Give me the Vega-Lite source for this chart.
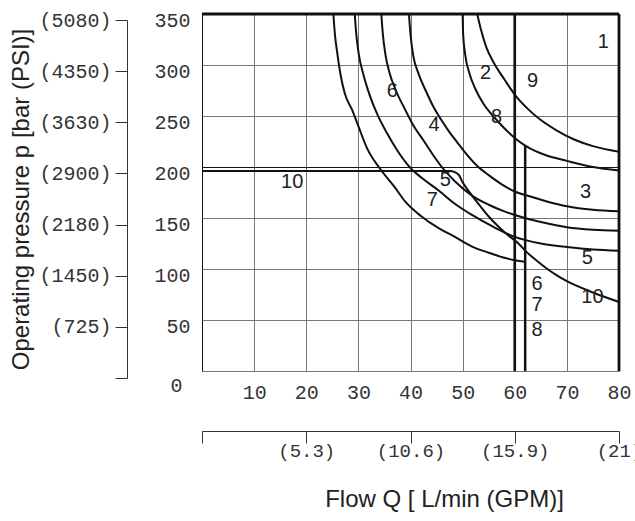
{
  "$schema": "https://vega.github.io/schema/vega-lite/v6.json",
  "width": 417,
  "height": 357,
  "autosize": {"type": "none"},
  "padding": {"left": 202, "top": 14, "right": 16, "bottom": 150},
  "background": "white",
  "config": {"view": {"stroke": "#111", "strokeWidth": 1}},
  "datasets": {
    "curves": [
      {"s": "A", "Q": 25.2, "P": 350}, {"s": "A", "Q": 25.5, "P": 330}, {"s": "A", "Q": 26, "P": 310}, {"s": "A", "Q": 26.6, "P": 290}, {"s": "A", "Q": 27.4, "P": 272}, {"s": "A", "Q": 28.8, "P": 256}, {"s": "A", "Q": 30, "P": 240}, {"s": "A", "Q": 31.7, "P": 218}, {"s": "A", "Q": 34.2, "P": 198}, {"s": "A", "Q": 37, "P": 180}, {"s": "A", "Q": 39, "P": 166}, {"s": "A", "Q": 42, "P": 152}, {"s": "A", "Q": 45.4, "P": 140}, {"s": "A", "Q": 48, "P": 133}, {"s": "A", "Q": 51.8, "P": 122}, {"s": "A", "Q": 55, "P": 116}, {"s": "A", "Q": 58, "P": 111}, {"s": "A", "Q": 60, "P": 108.5}, {"s": "A", "Q": 62, "P": 107},
      {"s": "B", "Q": 29.3, "P": 350}, {"s": "B", "Q": 29.6, "P": 330}, {"s": "B", "Q": 30.1, "P": 310}, {"s": "B", "Q": 31, "P": 290}, {"s": "B", "Q": 32.2, "P": 270}, {"s": "B", "Q": 33.6, "P": 252}, {"s": "B", "Q": 35.5, "P": 233}, {"s": "B", "Q": 37.5, "P": 216}, {"s": "B", "Q": 40, "P": 199}, {"s": "B", "Q": 42.5, "P": 188}, {"s": "B", "Q": 45.4, "P": 177}, {"s": "B", "Q": 48.5, "P": 164}, {"s": "B", "Q": 51.8, "P": 153}, {"s": "B", "Q": 56, "P": 141}, {"s": "B", "Q": 60, "P": 131.5}, {"s": "B", "Q": 65, "P": 125}, {"s": "B", "Q": 70, "P": 121.5}, {"s": "B", "Q": 75, "P": 119}, {"s": "B", "Q": 80, "P": 117.8},
      {"s": "C", "Q": 34.4, "P": 350}, {"s": "C", "Q": 34.7, "P": 330}, {"s": "C", "Q": 35.2, "P": 310}, {"s": "C", "Q": 36, "P": 292}, {"s": "C", "Q": 37.2, "P": 275}, {"s": "C", "Q": 39, "P": 256}, {"s": "C", "Q": 40.3, "P": 243}, {"s": "C", "Q": 42.5, "P": 226}, {"s": "C", "Q": 44.3, "P": 212}, {"s": "C", "Q": 46, "P": 200}, {"s": "C", "Q": 48.5, "P": 186}, {"s": "C", "Q": 51.8, "P": 172}, {"s": "C", "Q": 55, "P": 163}, {"s": "C", "Q": 58, "P": 156.5}, {"s": "C", "Q": 60, "P": 153}, {"s": "C", "Q": 65, "P": 146}, {"s": "C", "Q": 70, "P": 141}, {"s": "C", "Q": 75, "P": 138.5}, {"s": "C", "Q": 80, "P": 137.4},
      {"s": "D", "Q": 39.7, "P": 350}, {"s": "D", "Q": 40, "P": 330}, {"s": "D", "Q": 40.5, "P": 310}, {"s": "D", "Q": 41.5, "P": 292}, {"s": "D", "Q": 43, "P": 274}, {"s": "D", "Q": 44.5, "P": 258}, {"s": "D", "Q": 45.8, "P": 247}, {"s": "D", "Q": 47.5, "P": 234}, {"s": "D", "Q": 49, "P": 224}, {"s": "D", "Q": 50.5, "P": 214}, {"s": "D", "Q": 52.8, "P": 201}, {"s": "D", "Q": 55, "P": 192}, {"s": "D", "Q": 57.5, "P": 183}, {"s": "D", "Q": 60, "P": 176}, {"s": "D", "Q": 63, "P": 171}, {"s": "D", "Q": 66, "P": 166.5}, {"s": "D", "Q": 70, "P": 161.5}, {"s": "D", "Q": 75, "P": 158}, {"s": "D", "Q": 80, "P": 156.5},
      {"s": "E", "Q": 50, "P": 350}, {"s": "E", "Q": 50.1, "P": 330}, {"s": "E", "Q": 50.5, "P": 310}, {"s": "E", "Q": 51.3, "P": 292}, {"s": "E", "Q": 52.5, "P": 276}, {"s": "E", "Q": 54, "P": 262}, {"s": "E", "Q": 56, "P": 249}, {"s": "E", "Q": 58, "P": 238}, {"s": "E", "Q": 60, "P": 228.5}, {"s": "E", "Q": 62, "P": 221}, {"s": "E", "Q": 64, "P": 215.5}, {"s": "E", "Q": 66, "P": 211.5}, {"s": "E", "Q": 70, "P": 206}, {"s": "E", "Q": 75, "P": 200}, {"s": "E", "Q": 80, "P": 196.5},
      {"s": "F", "Q": 52.8, "P": 350}, {"s": "F", "Q": 53.5, "P": 335}, {"s": "F", "Q": 54.5, "P": 318}, {"s": "F", "Q": 56, "P": 302}, {"s": "F", "Q": 58, "P": 286}, {"s": "F", "Q": 60, "P": 271}, {"s": "F", "Q": 62.5, "P": 257}, {"s": "F", "Q": 65, "P": 246}, {"s": "F", "Q": 68, "P": 236}, {"s": "F", "Q": 71.4, "P": 227}, {"s": "F", "Q": 75, "P": 220.5}, {"s": "F", "Q": 80, "P": 215},
      {"s": "T", "Q": 0, "P": 196}, {"s": "T", "Q": 47.5, "P": 196}, {"s": "T", "Q": 48.5, "P": 195}, {"s": "T", "Q": 49.3, "P": 192}, {"s": "T", "Q": 50, "P": 185}, {"s": "T", "Q": 51.8, "P": 172}, {"s": "T", "Q": 53.5, "P": 161}, {"s": "T", "Q": 55, "P": 151.5}, {"s": "T", "Q": 57, "P": 141}, {"s": "T", "Q": 59, "P": 132}, {"s": "T", "Q": 60.5, "P": 126}, {"s": "T", "Q": 62, "P": 118}, {"s": "T", "Q": 64, "P": 109}, {"s": "T", "Q": 66, "P": 101}, {"s": "T", "Q": 68, "P": 94}, {"s": "T", "Q": 70, "P": 88}, {"s": "T", "Q": 75, "P": 77}, {"s": "T", "Q": 80, "P": 67.7}
    ],
    "lines": [
      {"s": "top", "Q": 0, "P": 350}, {"s": "top", "Q": 80, "P": 350},
      {"s": "right", "Q": 80, "P": 0}, {"s": "right", "Q": 80, "P": 350},
      {"s": "v60", "Q": 60, "P": 0}, {"s": "v60", "Q": 60, "P": 350},
      {"s": "v62", "Q": 62, "P": 0}, {"s": "v62", "Q": 62, "P": 221}
    ],
    "labels": [
      {"t": "1", "Q": 77, "P": 323}, {"t": "2", "Q": 54.4, "P": 292}, {"t": "9", "Q": 63.4, "P": 284},
      {"t": "6", "Q": 36.5, "P": 275}, {"t": "8", "Q": 56.5, "P": 249}, {"t": "4", "Q": 44.5, "P": 241},
      {"t": "5", "Q": 46.7, "P": 187}, {"t": "10", "Q": 17.3, "P": 185}, {"t": "7", "Q": 44.2, "P": 167.5},
      {"t": "3", "Q": 73.6, "P": 175.6}, {"t": "5", "Q": 73.9, "P": 111}, {"t": "6", "Q": 64.3, "P": 85},
      {"t": "7", "Q": 64.3, "P": 64.5}, {"t": "8", "Q": 64.3, "P": 40}, {"t": "10", "Q": 74.9, "P": 72.6}
    ],
    "aux": [{"g": 0, "p": 0}, {"g": 80, "p": 350}]
  },
  "layer": [
    {
      "layer": [
        {
          "data": {"name": "curves"},
          "mark": {"type": "line", "interpolate": "monotone", "color": "#111", "strokeWidth": 2},
          "encoding": {
            "x": {"field": "Q", "type": "quantitative", "scale": {"domain": [0, 80], "nice": false},
              "axis": {"orient": "bottom", "title": null, "values": [10, 20, 30, 40, 50, 60, 70, 80], "grid": true, "gridColor": "#777", "gridWidth": 1, "domain": false, "ticks": false, "labelPadding": 11, "labelFont": "Liberation Mono", "labelFontSize": 20, "labelColor": "#333", "labelFlush": false, "labelOverlap": false, "labelBaseline": "top"}},
            "y": {"field": "P", "type": "quantitative", "scale": {"domain": [0, 350], "nice": false},
              "axis": {"orient": "left", "title": null, "values": [0, 50, 100, 150, 200, 250, 300, 350], "grid": true,
                "gridColor": {"condition": {"test": "datum.value == 200", "value": "#111"}, "value": "#777"},
                "gridWidth": 1, "domain": false, "ticks": false, "labelFont": "Liberation Mono", "labelFontSize": 20, "labelColor": "#333", "labelFlush": false, "labelOverlap": false, "labelAlign": "right", "labelBaseline": "middle",
                "labelOffset": {"condition": {"test": "datum.value == 0", "value": 14}, "value": 6},
                "labelPadding": {"condition": {"test": "datum.value == 0", "value": 20}, "value": 12}}},
            "detail": {"field": "s", "type": "nominal"}
          }
        },
        {
          "data": {"name": "lines"},
          "mark": {"type": "line", "interpolate": "linear", "color": "#111"},
          "encoding": {
            "x": {"field": "Q", "type": "quantitative"},
            "y": {"field": "P", "type": "quantitative"},
            "detail": {"field": "s", "type": "nominal"},
            "strokeWidth": {"field": "s", "type": "nominal", "scale": {"domain": ["top", "right", "v60", "v62"], "range": [3, 2.5, 2, 2]}, "legend": null}
          }
        },
        {
          "data": {"name": "labels"},
          "mark": {"type": "text", "font": "Liberation Sans", "fontSize": 20, "color": "#222", "align": "center", "baseline": "middle"},
          "encoding": {
            "x": {"field": "Q", "type": "quantitative"},
            "y": {"field": "P", "type": "quantitative"},
            "text": {"field": "t", "type": "nominal"}
          }
        }
      ]
    },
    {
      "data": {"name": "aux"},
      "mark": {"type": "point", "opacity": 0, "size": 0},
      "encoding": {
        "x": {"field": "g", "type": "quantitative", "scale": {"domain": [0, 80], "nice": false},
          "axis": {"orient": "bottom", "offset": 60, "values": [0, 20, 40, 60, 80], "labelExpr": "['', '(5.3)', '(10.6)', '(15.9)', '(21)'][round(datum.value / 20)]",
            "grid": false, "domain": true, "domainColor": "#333", "domainWidth": 1, "ticks": true, "tickSize": 12, "tickColor": "#333", "tickWidth": 1,
            "labelPadding": -2, "labelFont": "Liberation Mono", "labelFontSize": 19, "labelColor": "#333", "labelFlush": false, "labelOverlap": false, "labelBaseline": "top",
            "title": "Flow Q [ L/min (GPM)]", "titleFont": "Liberation Sans", "titleFontSize": 24, "titleFontWeight": "normal", "titleColor": "#222", "titlePadding": 27, "titleX": 242}},
        "y": {"field": "p", "type": "quantitative", "scale": {"domain": [0, 350], "range": [364, 6], "nice": false},
          "axis": {"orient": "left", "offset": 75, "values": [0, 50, 100, 150, 200, 250, 300, 350],
            "labelExpr": "datum.value == 0 ? '' : '(' + ['', '725', '1450', '2180', '2900', '3630', '4350', '5080'][round(datum.value / 50)] + ')'",
            "grid": false, "domain": true, "domainColor": "#333", "domainWidth": 1, "ticks": true, "tickSize": 12, "tickColor": "#333", "tickWidth": 1,
            "labelPadding": 4, "labelFont": "Liberation Mono", "labelFontSize": 20, "labelColor": "#333", "labelFlush": false, "labelOverlap": false, "labelAlign": "right", "labelBaseline": "middle",
            "title": "Operating pressure p [bar (PSI)]", "titleFont": "Liberation Sans", "titleFontSize": 24, "titleFontWeight": "normal", "titleColor": "#222", "titlePadding": 5}}
      }
    }
  ],
  "resolve": {"scale": {"x": "independent", "y": "independent"}}
}
